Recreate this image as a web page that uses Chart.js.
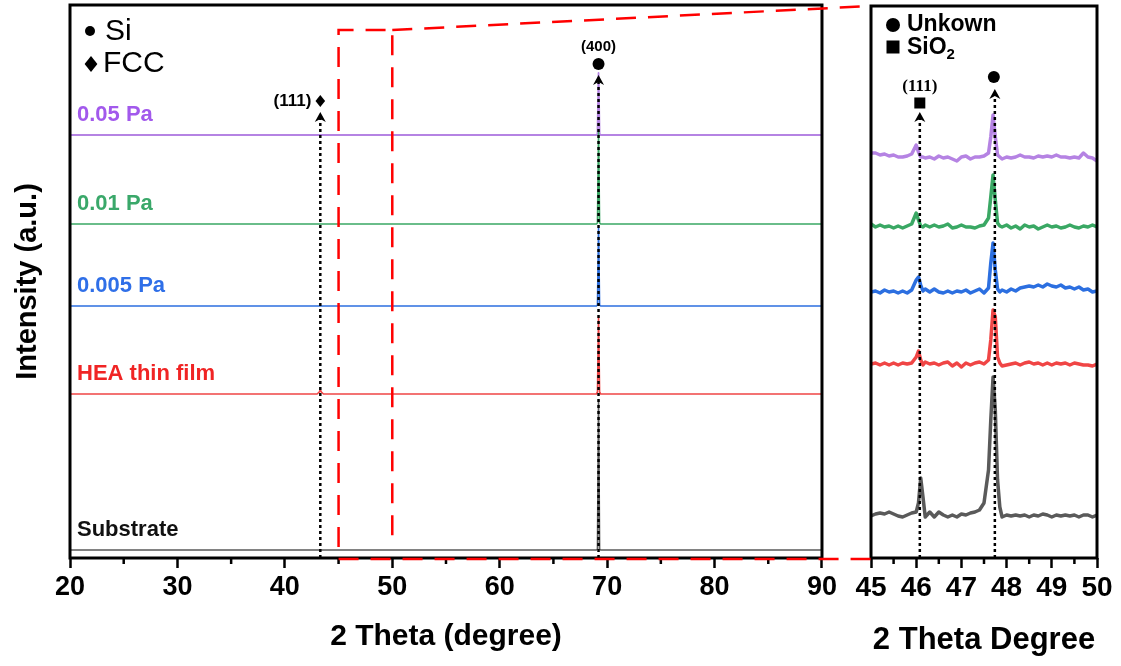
<!DOCTYPE html>
<html>
<head>
<meta charset="utf-8">
<script src="https://cdn.jsdelivr.net/npm/chart.js@4.4.0/dist/chart.umd.min.js"></script>
<style>
  html, body { margin: 0; padding: 0; background: #fff; }
  #wrap { position: relative; width: 1121px; height: 666px; }
  #leftBox { position: absolute; left: 0; top: 0; width: 840px; height: 666px; }
  #rightBox { position: absolute; left: 840px; top: 0; width: 281px; height: 666px; }
  #overlay { position: absolute; left: 0; top: 0; pointer-events: none; }
</style>
</head>
<body>
<div id="wrap">
  <div id="leftBox"><canvas id="leftChart"></canvas></div>
  <div id="rightBox"><canvas id="rightChart"></canvas></div>
  <canvas id="overlay" width="1121" height="666"></canvas>
</div>
<script>
// ---- data (intensity in arbitrary units, already offset for stacking) ----
const sampleNames = ['Substrate', 'HEA thin film', '0.005 Pa', '0.01 Pa', '0.05 Pa'];
const lineColors = ['#5a5a5a', '#f04545', '#2c6fe0', '#3aa864', '#b583e3'];
const labelColors = ['#111111', '#f02424', '#2f6fe8', '#3aa86a', '#a259ec'];

// full scan 20-90 deg
const fullTheta = [20, 43.0, 43.2, 43.3, 43.4, 43.6, 69.0, 69.1, 69.2, 69.3, 69.4, 90];
const fullSubstrate = [8, 8, 8, 8, 8, 8, 8, 9, 158, 9, 8, 8];
const fullHEA = [164, 164, 166, 168, 166, 164, 164, 166, 241, 166, 164, 164];
const full0005 = [252, 252, 252, 252, 252, 252, 252, 253, 330, 253, 252, 252];
const full001 = [334, 334, 334, 334, 334, 334, 334, 335, 426, 335, 334, 334];
const full005 = [423, 423, 423, 423, 423, 423, 423, 424, 485, 424, 423, 423];

// zoomed scan 45-50 deg
const zoomTheta = [45.0, 45.1, 45.2, 45.3, 45.4, 45.5, 45.6, 45.7, 45.8, 45.9,
  46.0, 46.05, 46.1, 46.15,
  46.2, 46.3, 46.4, 46.5, 46.6, 46.7, 46.8, 46.9, 47.0, 47.1, 47.2, 47.3, 47.4, 47.5, 47.6,
  47.65, 47.7, 47.75, 47.8, 47.85,
  47.9, 48.0, 48.1, 48.2, 48.3, 48.4, 48.5, 48.6, 48.7, 48.8, 48.9, 49.0, 49.1, 49.2, 49.3, 49.4, 49.5, 49.6, 49.7, 49.8, 49.9, 50.0];
const zoomSubstrate = [42, 44, 45, 44, 46, 44, 42, 41, 43, 45,
  46, 55, 80, 61,
  41, 46, 41, 46, 43, 41, 43, 41, 44, 43, 45, 46, 48, 55, 88,
  138, 181, 148, 78, 51,
  41, 43, 42, 43, 42, 43, 41, 43, 42, 44, 43, 41, 43, 42, 43, 42, 43, 41, 43, 43, 41, 43];
const zoomHEA = [194, 195, 193, 195, 193, 195, 193, 195, 194, 195,
  201, 207, 198, 193,
  196, 194, 195, 193, 195, 196, 192, 195, 191, 195, 193, 195, 196, 194, 198,
  218, 248, 241, 201, 195,
  192, 193, 194, 195, 193, 195, 196, 194, 195, 193, 195, 193, 195, 194, 195, 193, 195, 194, 193, 193, 192, 194];
const zoom0005 = [266, 267, 265, 268, 266, 267, 265, 267, 265, 268,
  278, 281, 273, 267,
  269, 266, 269, 266, 265, 267, 265, 267, 266, 268, 265, 267, 269, 265, 270,
  295, 315, 288, 269, 266,
  268, 266, 269, 267, 270, 271, 272, 271, 273, 271, 274, 272, 271, 273, 270, 271, 269, 271, 268, 269, 266, 267];
const zoom001 = [334, 331, 333, 331, 332, 330, 332, 330, 332, 334,
  345, 338, 332, 331,
  333, 331, 333, 331, 332, 334, 330, 331, 333, 331, 331, 330, 332, 333, 340,
  361, 383, 358, 335, 332,
  331, 333, 330, 332, 329, 333, 331, 332, 329, 331, 333, 331, 332, 330, 331, 333, 331, 330, 332, 331, 333, 331];
const zoom005 = [405, 405, 403, 404, 402, 403, 401, 401, 402, 404,
  413, 406, 401, 401,
  400, 401, 399, 402, 400, 401, 399, 397, 401, 402, 399, 401, 401, 402, 405,
  421, 443, 421, 403, 401,
  399, 401, 400, 401, 403, 401, 401, 400, 402, 401, 402, 401, 403, 401, 401, 400, 401, 400, 405, 401, 400, 397];

// peak markers
const fccTheta = 43.3;     // FCC (111)
const siTheta = 69.2;      // Si (400)
const sio2Theta = 46.08;   // SiO2 (111)
const unknownTheta = 47.74;
const zoomWindow = [45, 50];
const zoomBoxTop = 528;

const FONT = '"Liberation Sans", Arial, sans-serif';
Chart.defaults.font.family = FONT;
Chart.defaults.color = '#000';

let leftChart = null;
let rightChart = null;

function toXY(xs, ys) {
  return xs.map((x, i) => ({ x: x, y: ys[i] }));
}

function dottedArrow(ctx, px, yTop, yBottom) {
  ctx.save();
  ctx.strokeStyle = '#000';
  ctx.lineWidth = 2.5;
  ctx.setLineDash([3, 3]);
  ctx.beginPath();
  ctx.moveTo(px, yBottom);
  ctx.lineTo(px, yTop + 7);
  ctx.stroke();
  ctx.setLineDash([]);
  ctx.fillStyle = '#000';
  ctx.beginPath();
  ctx.moveTo(px, yTop);
  ctx.lineTo(px - 5.5, yTop + 10);
  ctx.lineTo(px, yTop + 7);
  ctx.lineTo(px + 5.5, yTop + 10);
  ctx.closePath();
  ctx.fill();
  ctx.restore();
}

function marker(ctx, shape, cx, cy, r) {
  ctx.fillStyle = '#000';
  ctx.beginPath();
  if (shape === 'circle') {
    ctx.arc(cx, cy, r, 0, Math.PI * 2);
  } else if (shape === 'diamond') {
    ctx.moveTo(cx, cy - r);
    ctx.lineTo(cx + r * 0.8, cy);
    ctx.lineTo(cx, cy + r);
    ctx.lineTo(cx - r * 0.8, cy);
    ctx.closePath();
  } else {
    ctx.rect(cx - r, cy - r, 2 * r, 2 * r);
  }
  ctx.fill();
}

function frameAndMinorTicks(chart, step, len) {
  const { ctx, chartArea: a, scales: { x } } = chart;
  ctx.save();
  ctx.strokeStyle = '#000';
  ctx.lineWidth = 2.5;
  ctx.beginPath();
  for (let v = x.min + step; v < x.max; v += 2 * step) {
    const px = x.getPixelForValue(v);
    ctx.moveTo(px, a.bottom);
    ctx.lineTo(px, a.bottom + len);
  }
  ctx.stroke();
  ctx.lineWidth = 3;
  ctx.strokeRect(a.left, a.top, a.right - a.left, a.bottom - a.top);
  ctx.restore();
}

const leftDecor = {
  id: 'leftDecor',
  afterDatasetsDraw(chart) {
    const { ctx, chartArea: a, scales: { x, y } } = chart;
    frameAndMinorTicks(chart, 5, 6);
    ctx.save();
    // sample labels
    ctx.font = 'bold 22px ' + FONT;
    ctx.textBaseline = 'middle';
    ctx.textAlign = 'left';
    chart.data.datasets.forEach((ds, i) => {
      ctx.fillStyle = labelColors[i];
      ctx.fillText(sampleNames[i], a.left + 7, y.getPixelForValue(ds.data[0].y) - 20);
    });
    // phase legend
    ctx.font = '30px ' + FONT;
    ctx.fillStyle = '#000';
    marker(ctx, 'circle', a.left + 20, a.top + 26, 5);
    ctx.fillText('Si', a.left + 35, a.top + 27);
    marker(ctx, 'diamond', a.left + 21, a.top + 59, 8);
    ctx.fillText('FCC', a.left + 33, a.top + 59);
    // peak arrows
    const fx = x.getPixelForValue(fccTheta);
    dottedArrow(ctx, fx, y.getPixelForValue(446), a.bottom);
    marker(ctx, 'diamond', fx, y.getPixelForValue(457), 6);
    ctx.font = 'bold 17px ' + FONT;
    ctx.textAlign = 'right';
    ctx.fillText('(111)', fx - 9, y.getPixelForValue(457));
    const sx = x.getPixelForValue(siTheta);
    dottedArrow(ctx, sx, y.getPixelForValue(483), a.bottom);
    marker(ctx, 'circle', sx, y.getPixelForValue(494), 6);
    ctx.textAlign = 'center';
    ctx.font = 'bold 15px ' + FONT;
    ctx.fillText('(400)', sx, y.getPixelForValue(511));
    ctx.restore();
  }
};

const rightDecor = {
  id: 'rightDecor',
  afterDatasetsDraw(chart) {
    const { ctx, chartArea: a, scales: { x, y } } = chart;
    frameAndMinorTicks(chart, 0.5, 6);
    ctx.save();
    ctx.fillStyle = '#000';
    ctx.textBaseline = 'middle';
    ctx.textAlign = 'left';
    ctx.font = 'bold 23px ' + FONT;
    marker(ctx, 'circle', a.left + 22, a.top + 19, 7);
    ctx.fillText('Unkown', a.left + 36, a.top + 19);
    marker(ctx, 'square', a.left + 22, a.top + 41, 6.5);
    ctx.fillText('SiO', a.left + 36, a.top + 42);
    const w = ctx.measureText('SiO').width;
    ctx.font = 'bold 15px ' + FONT;
    ctx.fillText('2', a.left + 36 + w, a.top + 49);
    // peak arrows
    const qx = x.getPixelForValue(sio2Theta);
    dottedArrow(ctx, qx, y.getPixelForValue(446), a.bottom);
    marker(ctx, 'square', qx, y.getPixelForValue(455), 5.5);
    ctx.font = 'bold 17px "Liberation Serif", "Times New Roman", serif';
    ctx.textAlign = 'center';
    ctx.fillText('(111)', qx, y.getPixelForValue(471));
    const ux = x.getPixelForValue(unknownTheta);
    dottedArrow(ctx, ux, y.getPixelForValue(469), a.bottom);
    marker(ctx, 'circle', ux - 1, y.getPixelForValue(481), 6);
    ctx.restore();
    drawZoomGuide();
  }
};

function lineSet(data, color, width) {
  return { data: data, borderColor: color, borderWidth: width, pointRadius: 0, tension: 0, fill: false, borderJoinStyle: 'round' };
}

// red dashed zoom box and connector lines between the two panels
function drawZoomGuide() {
  if (!leftChart || !rightChart) return;
  const o = document.getElementById('overlay').getContext('2d');
  o.clearRect(0, 0, 1121, 666);
  const L = leftChart, R = rightChart;
  const lOff = L.canvas.parentNode.offsetLeft;
  const rOff = R.canvas.parentNode.offsetLeft;
  const x1 = L.scales.x.getPixelForValue(zoomWindow[0]) + lOff;
  const x2 = L.scales.x.getPixelForValue(zoomWindow[1]) + lOff;
  const yTop = L.scales.y.getPixelForValue(zoomBoxTop);
  const yBot = L.chartArea.bottom + 1;
  const rx = R.chartArea.left + rOff;
  o.save();
  o.strokeStyle = '#ff0000';
  o.lineWidth = 2.5;
  o.setLineDash([20, 12]);
  o.beginPath();
  o.moveTo(x1, yBot - 12);
  o.lineTo(x1, yTop);
  o.lineTo(x2, yTop);
  o.lineTo(x2, yBot - 12);
  o.stroke();
  o.beginPath();
  o.moveTo(x2, yTop);
  o.lineTo(rx, R.chartArea.top);
  o.stroke();
  o.beginPath();
  o.moveTo(x1, yBot);
  o.lineTo(rx, R.chartArea.bottom + 1);
  o.stroke();
  o.restore();
}

leftChart = new Chart(document.getElementById('leftChart'), {
  type: 'line',
  data: {
    datasets: [
      lineSet(toXY(fullTheta, fullSubstrate), lineColors[0], 1.6),
      lineSet(toXY(fullTheta, fullHEA), lineColors[1], 1.6),
      lineSet(toXY(fullTheta, full0005), lineColors[2], 1.6),
      lineSet(toXY(fullTheta, full001), lineColors[3], 1.6),
      lineSet(toXY(fullTheta, full005), lineColors[4], 1.8)
    ]
  },
  options: {
    responsive: true,
    maintainAspectRatio: false,
    animation: false,
    layout: { padding: { left: 0, right: 18, top: 5, bottom: 0 } },
    plugins: { legend: { display: false }, tooltip: { enabled: false } },
    scales: {
      x: {
        type: 'linear', min: 20, max: 90,
        border: { display: false },
        grid: { drawOnChartArea: false, tickLength: 10, tickWidth: 2.5, tickColor: '#000' },
        ticks: { stepSize: 10, padding: 3, font: { size: 27, weight: 'bold' }, color: '#000' },
        title: { display: true, text: '2 Theta (degree)', font: { size: 30, weight: 'bold' }, padding: { top: 0, bottom: 11 } },
        afterFit: (s) => { s.height = 108; }
      },
      y: {
        min: 0, max: 553,
        border: { display: false },
        grid: { display: false },
        ticks: { display: false },
        title: { display: true, text: 'Intensity (a.u.)', font: { size: 29, weight: 'bold' }, padding: { top: 11, bottom: 0 } },
        afterFit: (s) => { s.width = 70; }
      }
    }
  },
  plugins: [leftDecor]
});

rightChart = new Chart(document.getElementById('rightChart'), {
  type: 'line',
  data: {
    datasets: [
      lineSet(toXY(zoomTheta, zoomSubstrate), lineColors[0], 3.5),
      lineSet(toXY(zoomTheta, zoomHEA), lineColors[1], 3.5),
      lineSet(toXY(zoomTheta, zoom0005), lineColors[2], 3.5),
      lineSet(toXY(zoomTheta, zoom001), lineColors[3], 3.5),
      lineSet(toXY(zoomTheta, zoom005), lineColors[4], 3.5)
    ]
  },
  options: {
    responsive: true,
    maintainAspectRatio: false,
    animation: false,
    layout: { padding: { left: 31, right: 24, top: 6, bottom: 0 } },
    plugins: { legend: { display: false }, tooltip: { enabled: false } },
    scales: {
      x: {
        type: 'linear', min: zoomWindow[0], max: zoomWindow[1],
        border: { display: false },
        grid: { drawOnChartArea: false, tickLength: 10, tickWidth: 2.5, tickColor: '#000' },
        ticks: { stepSize: 1, padding: 3, font: { size: 28, weight: 'bold' }, color: '#000' },
        title: { display: true, text: '2 Theta Degree', font: { size: 31, weight: 'bold' }, padding: { top: 0, bottom: 7 } },
        afterFit: (s) => { s.height = 108; }
      },
      y: { display: false, min: 0, max: 552 }
    }
  },
  plugins: [rightDecor]
});

drawZoomGuide();
</script>
</body>
</html>
